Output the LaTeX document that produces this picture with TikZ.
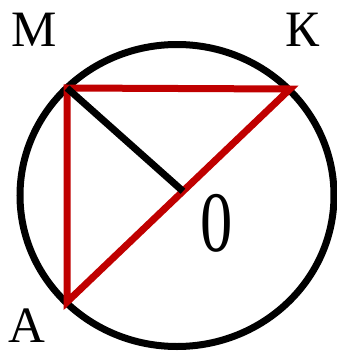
\documentclass[tikz,border=0pt]{standalone}
\usepackage{fontspec}
\setmainfont{Liberation Serif}
\usetikzlibrary{calc}
\definecolor{ChordRed}{RGB}{192,0,0}

\begin{document}
\begin{tikzpicture}[x=1pt, y=-1pt,
          circ/.style={draw=black, line width=7pt},
          chord/.style={draw=ChordRed, line width=7pt, line join=miter},
          rad/.style={draw=black, line width=7pt},
          lbl/.style={inner sep=0pt, font=\fontsize{51}{51}\selectfont}
        ]
        \useasboundingbox (0,0) rectangle (337,351);

        % Points on the circle
        \coordinate (M) at (67, 88);
        \coordinate (K) at (290, 89);
        \coordinate (A) at (67, 302);
        \coordinate (O) at ($(A)!0.52!(K)$);

        % Circle
        \draw[circ] (177, 195.5) ellipse [x radius=157, y radius=151];

        % Triangle
        \draw[chord] (A) -- (M) -- (K) -- cycle;

        % Radius
        \draw[rad] (M) -- (O);

        % Labels
        \node[lbl] (lblM) at (34, 30)  {М};
        \node[lbl] (lblK) at (303, 30) {К};
        \node[lbl] (lblA) at (27, 326) {А};
        \node[lbl, font=\fontsize{86}{86}\selectfont, xscale=0.75]
              (lblO) at (217, 223) {0};
\end{tikzpicture}
\end{document}
